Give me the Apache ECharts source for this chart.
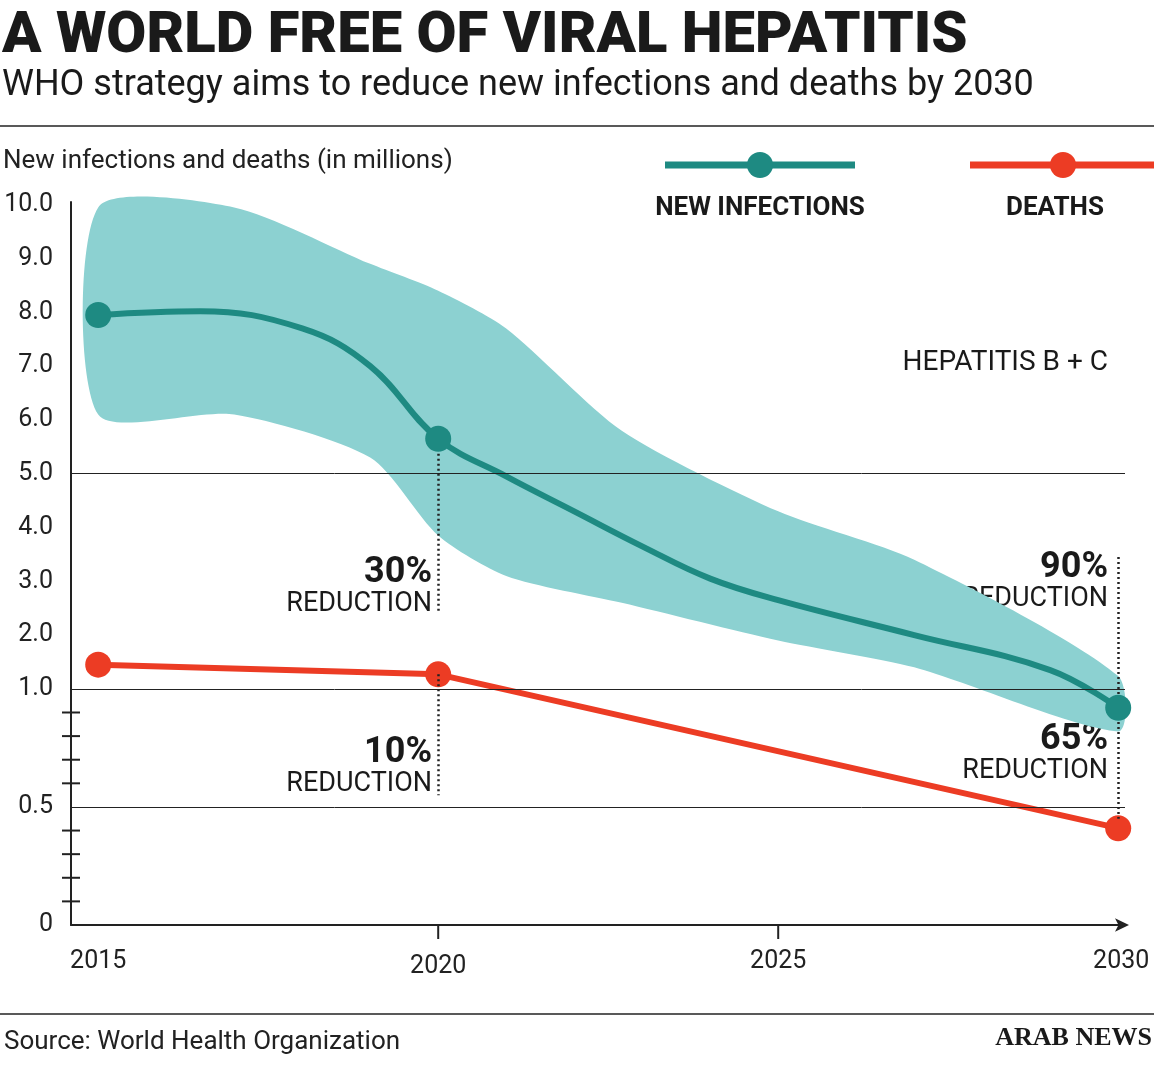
<!DOCTYPE html>
<html><head><meta charset="utf-8">
<script src="https://cdn.jsdelivr.net/npm/echarts@6/dist/echarts.min.js"></script>
<style>html,body{margin:0;padding:0;background:#fff}#c{width:1154px;height:1065px}</style>
</head><body><div id="c"></div>
<script>
const bandYears = [2015,2017,2019,2020,2021,2022.7,2025,2027,2030];
const bandUpper = [9.95,9.95,8.9,8.4,7.7,5.8,4.3,3.4,1.24];
const bandLower = [6.1,6.1,5.3,3.85,3.1,2.6,1.9,1.4,0.82];
const infYears = [2015,2016.5,2018,2019,2020,2021,2022,2023,2024,2025,2027,2029,2030];
const infVals = [7.95,8.02,7.7,7.0,5.65,4.95,4.3,3.65,3.05,2.65,2.0,1.35,0.92];
const infPoints = [[2015,7.95],[2020,5.65],[2030,0.92]];
const deathYears = [2015,2020,2030];
const deathVals = [1.45,1.27,0.41];
const yTickLabels = [0,0.5,1,2,3,4,5,6,7,8,9,10];
const yMinorTicks = [0.1,0.2,0.3,0.4,0.6,0.7,0.8,0.9];
const xTickYears = [2015,2020,2025,2030];
const gridLineVals = [0.5,1,5];

const K = 237/54;
const T = v => v<=1 ? v*K : K + (v-1);
const XMIN = 2014.6;
const TEAL='#1e8a82', RED='#ec3c24', BAND='#8cd1d1';

const chart = echarts.init(document.getElementById('c'));
const F = 'Roboto, "Open Sans", sans-serif';
chart.setOption({
  animation:false,
  grid:{left:71,right:29,top:202,bottom:140},
  xAxis:{type:'value',min:XMIN,max:2030.1,
    axisLine:{lineStyle:{color:'#222',width:2},symbol:['none','arrow'],symbolSize:[10,14],symbolOffset:[0,4]},
    axisTick:{show:false},axisLabel:{show:false},splitLine:{show:false}},
  yAxis:{type:'value',min:0,max:T(10.05),
    axisLine:{show:true,lineStyle:{color:'#222',width:2}},
    axisTick:{show:false},axisLabel:{show:false},splitLine:{show:false}},
  series:[
    {type:'custom',data:[[0]],z:1,renderItem:(p,api)=>{
      const up=bandYears.map((y,i)=>api.coord([y,T(bandUpper[i])]));
      const lo=bandYears.map((y,i)=>api.coord([y,T(bandLower[i])])).reverse();
      return {type:'group',children:[
        {type:'polygon',shape:{points:up.concat(lo),smooth:0.25},style:{fill:BAND}}]};}},
    {type:'line',data:gridLineVals.map(v=>[XMIN,T(v)]),symbol:'none',lineStyle:{opacity:0},z:2,
      markLine:{silent:true,symbol:'none',label:{show:false},lineStyle:{color:'#222',width:1,type:'solid'},
        data:gridLineVals.map(v=>[{coord:[XMIN,T(v)]},{coord:[2030.1,T(v)]}])}},
    {type:'line',data:[],markLine:{silent:true,symbol:'none',label:{show:false},
      lineStyle:{color:'#222',width:2.5,type:[2,3]},
      data:[[{coord:[2020,T(5.65)]},{coord:[2020,T(2.45)]}],
            [{coord:[2020,T(1.27)]},{coord:[2020,T(0.55)]}],
            [{coord:[2030,T(3.45)]},{coord:[2030,T(0.45)]}]]}},
    {type:'line',data:infYears.map((y,i)=>[y,T(infVals[i])]),smooth:0.4,symbol:'none',
      lineStyle:{color:TEAL,width:6},z:4},
    {type:'scatter',data:infPoints.map(p=>[p[0],T(p[1])]),symbolSize:26,itemStyle:{color:TEAL,opacity:1},z:5},
    {type:'line',data:deathYears.map((y,i)=>[y,T(deathVals[i])]),symbol:'circle',symbolSize:26,
      lineStyle:{color:RED,width:6},itemStyle:{color:RED,opacity:1},z:4},
    {type:'custom',data:yTickLabels.map(v=>[v]),z:6,renderItem:(p,api)=>{
      const v=api.value(0); const c=api.coord([XMIN,T(v)]);
      const txt = v===0?'0':v.toFixed(1);
      return {type:'text',style:{text:txt,x:c[0]-18,y:c[1],align:'right',verticalAlign:'middle',font:'25px '+F,fill:'#222'}};}},
    {type:'custom',data:yMinorTicks.map(v=>[v]),z:6,renderItem:(p,api)=>{
      const c=api.coord([XMIN,T(api.value(0))]);
      return {type:'line',shape:{x1:c[0]-9,y1:c[1],x2:c[0]+9,y2:c[1]},style:{stroke:'#222',lineWidth:2}};}},
    {type:'custom',data:xTickYears.map(v=>[v]),z:6,renderItem:(p,api)=>{
      const y=api.value(0); const c=api.coord([y,0]);
      const ch=[{type:'text',style:{text:String(y),x:c[0]+(y===2030?3:0),y:c[1]+37+(y===2020?5:0),align:'center',verticalAlign:'middle',font:'25px '+F,fill:'#222'}}];
      if(y===2020||y===2025) ch.push({type:'line',shape:{x1:c[0],y1:c[1],x2:c[0],y2:c[1]+14},style:{stroke:'#222',lineWidth:2}});
      return {type:'group',children:ch};}}
  ],
  graphic:[
    {type:'text',left:2,top:8,style:{text:'A WORLD FREE OF VIRAL HEPATITIS',font:'900 58px '+F,fill:'#1a1a1a'}},
    {type:'text',left:2,top:68,style:{text:'WHO strategy aims to reduce new infections and deaths by 2030',font:'36px '+F,fill:'#1a1a1a'}},
    {type:'line',shape:{x1:0,y1:126,x2:1154,y2:126},style:{stroke:'#222',lineWidth:1.5}},
    {type:'text',left:3,top:148,style:{text:'New infections and deaths (in millions)',font:'26px '+F,fill:'#222'}},
    {type:'line',shape:{x1:665,y1:165,x2:855,y2:165},style:{stroke:TEAL,lineWidth:7}},
    {type:'circle',shape:{cx:760,cy:165,r:13},style:{fill:TEAL}},
    {type:'text',x:760,y:208,style:{text:'NEW INFECTIONS',align:'center',verticalAlign:'middle',font:'bold 26px '+F,fill:'#1a1a1a'}},
    {type:'line',shape:{x1:970,y1:165,x2:1154,y2:165},style:{stroke:RED,lineWidth:7}},
    {type:'circle',shape:{cx:1063,cy:165,r:13},style:{fill:RED}},
    {type:'text',x:1055,y:208,style:{text:'DEATHS',align:'center',verticalAlign:'middle',font:'bold 26px '+F,fill:'#1a1a1a'}},
    {type:'text',x:1108,y:363,style:{text:'HEPATITIS B + C',align:'right',verticalAlign:'middle',font:'28px '+F,fill:'#1a1a1a'}},
    {type:'text',x:432,y:573,style:{text:'30%',align:'right',verticalAlign:'middle',font:'bold 36px '+F,fill:'#1a1a1a'}},
    {type:'text',x:432,y:604,style:{text:'REDUCTION',align:'right',verticalAlign:'middle',font:'27px '+F,fill:'#1a1a1a'}},
    {type:'text',x:432,y:753,style:{text:'10%',align:'right',verticalAlign:'middle',font:'bold 36px '+F,fill:'#1a1a1a'}},
    {type:'text',x:432,y:784,style:{text:'REDUCTION',align:'right',verticalAlign:'middle',font:'27px '+F,fill:'#1a1a1a'}},
    {type:'text',x:1108,y:568,style:{text:'90%',align:'right',verticalAlign:'middle',font:'bold 36px '+F,fill:'#1a1a1a'}},
    {type:'text',x:1108,y:599,style:{text:'REDUCTION',align:'right',verticalAlign:'middle',font:'27px '+F,fill:'#1a1a1a'}},
    {type:'text',x:1108,y:740,style:{text:'65%',align:'right',verticalAlign:'middle',font:'bold 36px '+F,fill:'#1a1a1a'}},
    {type:'text',x:1108,y:771,style:{text:'REDUCTION',align:'right',verticalAlign:'middle',font:'27px '+F,fill:'#1a1a1a'}},
    {type:'line',shape:{x1:0,y1:1014,x2:1154,y2:1014},style:{stroke:'#222',lineWidth:1.5}},
    {type:'text',left:4,top:1029,style:{text:'Source: World Health Organization',font:'26px '+F,fill:'#222'}},
    {type:'text',right:2,top:1025,style:{text:'ARAB NEWS',font:'bold 26px "Liberation Serif", serif',fill:'#1a1a1a'}}
  ]
});
</script></body></html>
